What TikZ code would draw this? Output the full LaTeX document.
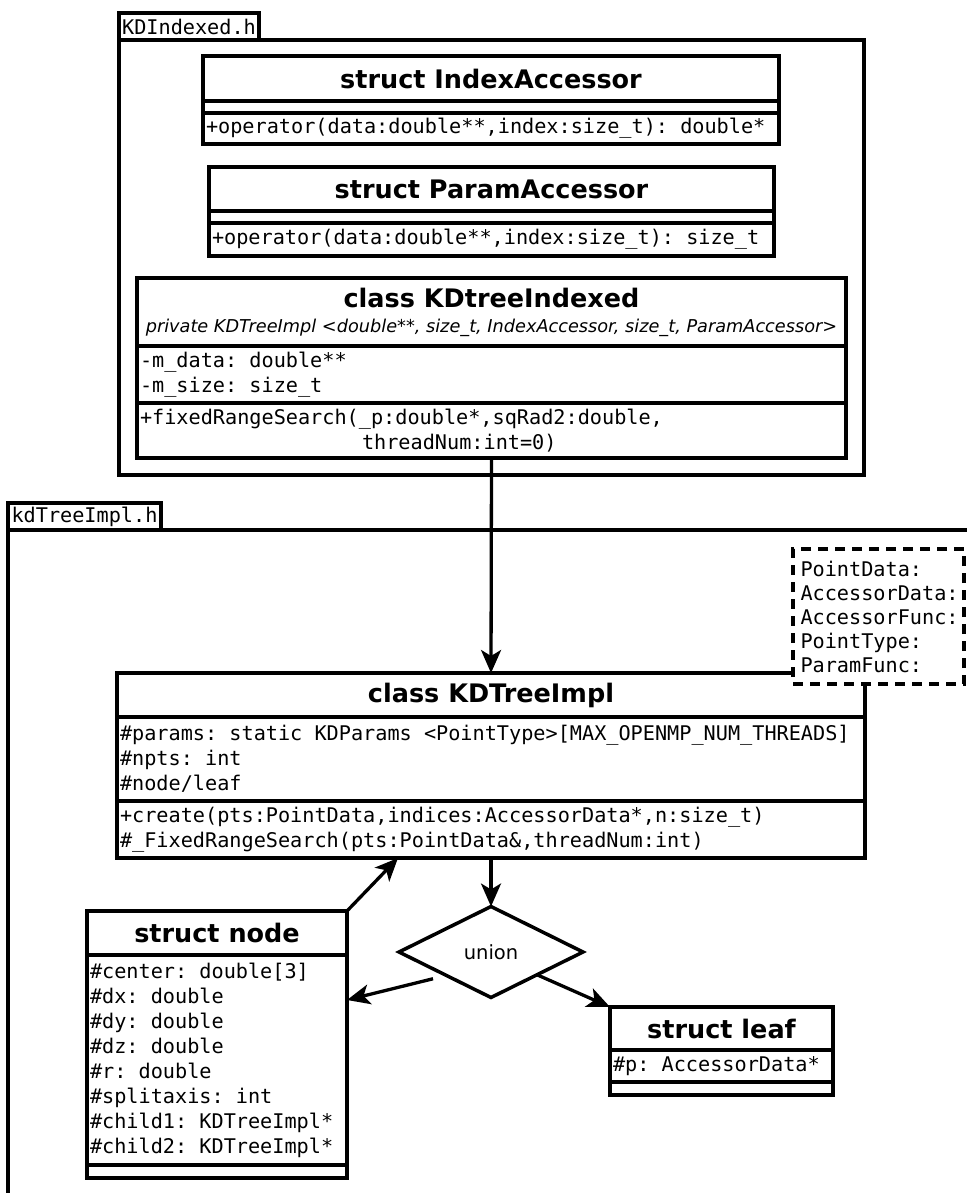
\documentclass[tikz,border=0pt]{standalone}
\usepackage{fontspec}
\setmainfont{DejaVu Sans}
\setmonofont[WordSpace={1,0,0}]{DejaVu Sans Mono}
\usepackage{tikz}
\usetikzlibrary{positioning,shapes.geometric,arrows.meta}
\newcommand{\monotxt}{\ttfamily\fontsize{20.2}{25}\selectfont\frenchspacing}
\newcommand{\notetxt}{\ttfamily\fontsize{20.2}{24}\selectfont}
\newcommand{\headtxt}{\fontsize{25.5}{30}\selectfont\bfseries}
\newcommand{\subtxt}{\normalfont\fontsize{17.7}{20}\selectfont\itshape}
\tikzset{
    box/.style={draw,line width=3.5pt,fill=white,outer sep=0pt},
    head/.style={box,anchor=north,inner sep=0pt,align=flush center,font=\headtxt},
    sect/.style={box,inner xsep=3pt,inner ysep=0pt,align=flush left,font=\monotxt},
    tab/.style={box,anchor=south west,inner sep=0pt,minimum height=27pt,font=\monotxt},
    pkg/.style={box,anchor=north west},
    note/.style={box,dash pattern=on 10pt off 7pt,anchor=north west,inner xsep=7.5pt,
        inner ysep=0pt,align=flush left,font=\notetxt},
    arr/.style={line width=3.3pt,-{Stealth[length=23pt,width=20pt,inset=6pt]}}
}
\begin{document}
\begin{tikzpicture}[x=1pt,y=-1pt]
                \path[use as bounding box,fill=white] (0,0) rectangle (966,1193);
                \node[pkg,minimum width=745pt,minimum height=435pt](pkg1) at (119,40){};
                \node[tab,minimum width=140pt](tab1) at (119,40){KDIndexed.h};
                \node[pkg,minimum width=1000pt,minimum height=700pt](pkg2) at (8,530){};
                \node[tab,minimum width=153pt](tab2) at (8,530){kdTreeImpl.h};

                \node[head,minimum width=576pt,minimum height=45pt](ia1) at (491,56){struct IndexAccessor};
                \node[sect,text width=570pt,minimum height=12pt](ia2)[below=0pt of ia1]{};
                \node[sect,text width=570pt,minimum height=31pt](ia3)[below=0pt of ia2]
                    {+operator(data:double**,index:size\_t): double*};

                \node[head,minimum width=565pt,minimum height=44pt](pa1) at (491.5,167){struct ParamAccessor};
                \node[sect,text width=559pt,minimum height=12pt](pa2)[below=0pt of pa1]{};
                \node[sect,text width=559pt,minimum height=33pt](pa3)[below=0pt of pa2]
                    {+operator(data:double**,index:size\_t): size\_t};

                \node[head,minimum width=709pt,minimum height=68pt](kdi1) at (491.5,278)
                    {class KDtreeIndexed\\[-5pt]{\subtxt private KDTreeImpl <double**, size\_t, IndexAccessor, size\_t, ParamAccessor>}};
                \node[sect,text width=703pt,minimum height=57pt](kdi2)[below=0pt of kdi1]
                    {-m\_data: double**\\-m\_size: size\_t};
                \node[sect,text width=703pt,minimum height=55pt](kdi3)[below=0pt of kdi2]
                    {+fixedRangeSearch(\_p:double*,sqRad2:double,\\\hspace*{222pt}threadNum:int=0)};

                \node[head,minimum width=748pt,minimum height=44pt](impl1) at (491,673){class KDTreeImpl};
                \node[sect,text width=742pt,minimum height=84pt](impl2)[below=0pt of impl1]
                    {\#params: static KDParams <PointType>[MAX\_OPENMP\_NUM\_THREADS]\\\#npts: int\\\#node/leaf};
                \node[sect,text width=742pt,minimum height=57pt](impl3)[below=0pt of impl2]
                    {+create(pts:PointData,indices:AccessorData*,n:size\_t)\\\#\_FixedRangeSearch(pts:PointData\&,threadNum:int)};

                \node[note,minimum width=171pt,minimum height=135pt,text width=156pt](tpl) at (793,549)
                    {PointData:\\AccessorData:\\AccessorFunc:\\PointType:\\ParamFunc:};

                \node[box,diamond,minimum width=184pt,minimum height=91pt,inner sep=0pt,
                    font=\fontsize{19.5}{22}\selectfont](union) at (491,952){union};

                \node[head,minimum width=260pt,minimum height=44pt](node1) at (217,911){struct node};
                \node[sect,text width=254pt,minimum height=210pt](node2)[below=0pt of node1]
                    {\#center: double[3]\\\#dx: double\\\#dy: double\\\#dz: double\\\#r: double\\
                     \#splitaxis: int\\\#child1: KDTreeImpl*\\\#child2: KDTreeImpl*};
                \node[sect,text width=254pt,minimum height=13pt](node3)[below=0pt of node2]{};

                \node[head,minimum width=223pt,minimum height=43pt](leaf1) at (721.5,1007){struct leaf};
                \node[sect,text width=217pt,minimum height=32pt](leaf2)[below=0pt of leaf1]{\#p: AccessorData*};
                \node[sect,text width=217pt,minimum height=13pt](leaf3)[below=0pt of leaf2]{};

                \draw[arr](kdi3.south) -- (impl1.north);
                \draw[arr](impl3.south) -- (union.north);
                \draw[arr](node1.north east) -- ([xshift=-93pt]impl3.south);
                \draw[arr]([xshift=-12pt,yshift=-4pt]union.south west) -- ([yshift=-45pt]node2.north east);
                \draw[arr](union.south east) -- (leaf1.north west);
            \end{tikzpicture}
\end{document}
